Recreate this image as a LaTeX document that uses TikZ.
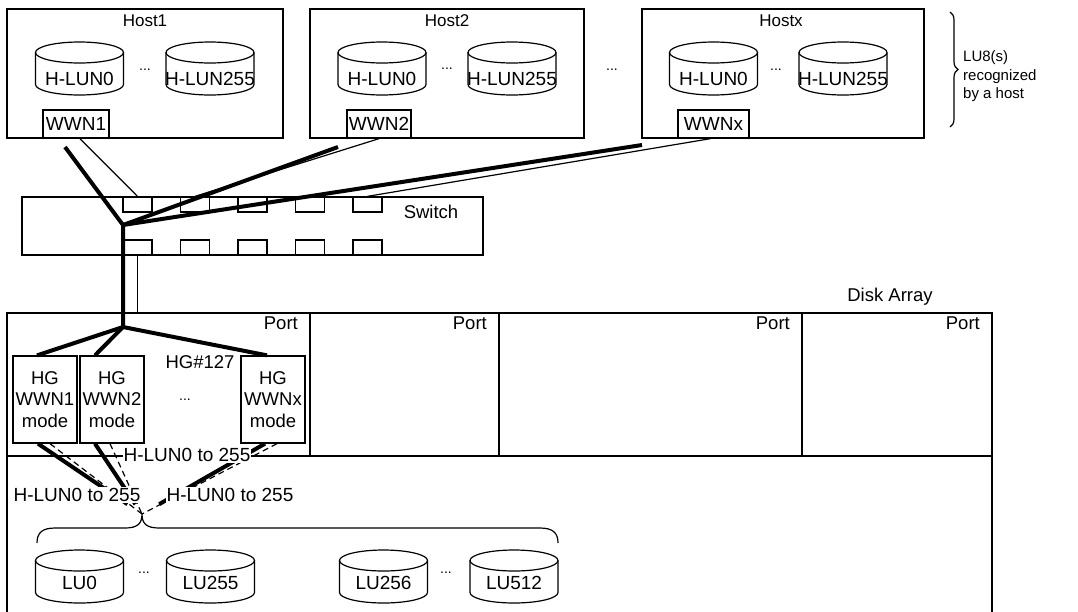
\documentclass[tikz,border=0pt]{standalone}
\usepackage{fontspec}
\setmainfont{Liberation Sans}
\usetikzlibrary{calc,decorations.pathreplacing}
\newcommand{\drawcyl}[5]{%
  \draw[cylline] ({#2-44},{#3+10.5}) -- ({#2-44},{#3+42.5}) arc[start angle=180,end angle=360,x radius=44pt,y radius=10.5pt] -- ({#2+44},{#3+10.5});
  \draw[cylline] (#2,{#3+10.5}) ellipse[x radius=44pt,y radius=10.5pt];
  \node[cyltext] (#1) at (#2,#5) {#4};
}
\begin{document}
\begin{tikzpicture}[x=1pt,y=-1pt,
  bx/.style={draw,line width=1.3pt,inner sep=0pt},
  hosttitle/.style={inner sep=0pt,font=\fontsize{17}{20}\selectfont},
  cyltext/.style={inner sep=0pt,font=\fontsize{19}{22}\selectfont},
  cylline/.style={line width=1.2pt},
  wwnbox/.style={bx,font=\fontsize{19}{22}\selectfont},
  swport/.style={bx,minimum width=29pt,minimum height=15pt},
  txt/.style={inner sep=0pt,font=\fontsize{18.5}{22}\selectfont},
  hgbox/.style={bx,minimum width=64pt,minimum height=87pt,align=center,font=\fontsize{18.5}{21.5}\selectfont},
  lunlabel/.style={fill=white,inner sep=1pt,font=\fontsize{19}{22}\selectfont},
  dotnode/.style={inner sep=0pt,font=\fontsize{14}{16}\selectfont},
  thickline/.style={line width=4pt},
  thinline/.style={line width=1.2pt},
  dashline/.style={line width=1.2pt,dash pattern=on 6pt off 4pt},
  sidelabel/.style={inner sep=0pt,align=left,font=\fontsize{15}{18.5}\selectfont},
  bracket/.style={line width=1.2pt}]
\useasboundingbox (0,0) rectangle (1078,611);

% Hosts
\node[bx,minimum width=276pt,minimum height=129pt] (host1) at (145,73.5) {};
\node[bx,minimum width=274pt,minimum height=129pt] (host2) at (447,73.5) {};
\node[bx,minimum width=282pt,minimum height=129pt] (hostx) at (783,73.5) {};
\node[hosttitle] (t1) at (145,21) {Host1};
\node[hosttitle] (t2) at (447,21) {Host2};
\node[hosttitle] (tx) at (781,21) {Hostx};

\drawcyl{h1a}{79.5}{42}{H-LUN0}{79}
\drawcyl{h1b}{210}{42}{H-LUN255}{79}
\drawcyl{h2a}{382}{42}{H-LUN0}{79}
\drawcyl{h2b}{512}{42}{H-LUN255}{79}
\drawcyl{hxa}{713.5}{42}{H-LUN0}{79}
\drawcyl{hxb}{843}{42}{H-LUN255}{79}
\node[dotnode] (d1) at (145,70) {...};
\node[dotnode] (d2) at (447,69) {...};
\node[dotnode] (d3) at (612,70) {...};
\node[dotnode] (d4) at (776,70) {...};

\node[wwnbox,minimum width=66pt,minimum height=28pt] (wwn1) at (76,124) {WWN1};
\node[wwnbox,minimum width=64pt,minimum height=28pt] (wwn2) at (379,124) {WWN2};
\node[wwnbox,minimum width=71pt,minimum height=28pt] (wwnx) at (713.5,124) {WWNx};

% brace right
\draw[bracket,decorate,decoration={brace,amplitude=8pt}] (950,12) -- (950,127);
\node[sidelabel,anchor=west] (lu8) at (963,76.5) {LU8(s)\\recognized\\by a host};

% Switch
\node[bx,minimum width=461pt,minimum height=58pt] (switch) at (252.5,226) {};
\node[txt] (swlabel) at (431,212) {Switch};
\foreach \i/\x in {1/137.5,2/195,3/252.5,4/310,5/367.5}{
  \node[swport] (sp\i) at (\x,204.5) {};
  \node[swport] (sb\i) at (\x,247.5) {};
}

% Disk array
\node[txt] (disklabel) at (890,297) {Disk Array};
\node[bx,minimum width=303pt,minimum height=143pt] (port1) at (158.5,384.5) {};
\node[bx,minimum width=189pt,minimum height=143pt] (port2) at (404.5,384.5) {};
\node[bx,minimum width=303pt,minimum height=143pt] (port3) at (650.5,384.5) {};
\node[bx,minimum width=190pt,minimum height=143pt] (port4) at (897,384.5) {};
\node[bx,minimum width=985pt,minimum height=170pt] (lower) at (499.5,541) {};
\foreach \p/\x in {1/298,2/487,3/790,4/980}{
  \node[txt,anchor=east] (pl\p) at (\x,323) {Port};
}

% HG boxes
\node[hgbox] (hg1) at (45,399.5) {HG\\WWN1\\mode};
\node[hgbox] (hg2) at (112,399.5) {HG\\WWN2\\mode};
\node[hgbox] (hgx) at (273,399.5) {HG\\WWNx\\mode};
\node[txt] (hg127) at (200,362) {HG\#127};
\node[dotnode] (d5) at (185,400) {...};

% LU cylinders
\drawcyl{lu0}{79.5}{550}{LU0}{583}
\drawcyl{lu255}{210.5}{550}{LU255}{583}
\drawcyl{lu256}{383.5}{550}{LU256}{583}
\drawcyl{lu512}{514}{550}{LU512}{583}
\node[dotnode] (d6) at (144,573) {...};
\node[dotnode] (d7) at (446,573) {...};

% bottom brace
\coordinate (tip) at (142,514);
\draw[bracket] (37,543) .. controls (37,533) and (42,528) .. (55,528) -- (125,528)
  .. controls (137,528) and (142,524) .. (tip)
  .. controls (142,524) and (147,528) .. (159,528) -- (540,528)
  .. controls (553,528) and (558,533) .. (558,543);

% connections
\coordinate (hub) at (123,225);
\coordinate (branch) at (123,327);
\coordinate (c1) at (65,147);
\coordinate (c2) at (338,147);
\coordinate (cx) at (642,145);
\draw[thinline] ($(wwn1.south)+(4,0)$) -- (sp1.north);
\draw[thinline] (wwn2.south) -- (sp2.north);
\draw[thinline] ($(wwnx.south)+(-3,0)$) -- (sp5.north);
\draw[thinline] (sb1.south) -- (sb1.south |- port1.north);
\draw[thickline] (c1) -- (hub) -- (branch);
\draw[thickline] (c2) -- (hub);
\draw[thickline] (cx) -- (hub);
\draw[thickline] (branch) -- ($(hg1.north)+(-8,0)$);
\draw[thickline] (branch) -- ($(hg2.north)+(-17,0)$);
\draw[thickline] (branch) -- ($(hgx.north)+(-6,0)$);

\coordinate (s1) at ($(hg1.south)+(-7,0)$);
\coordinate (s2) at ($(hg2.south)+(-17,0)$);
\coordinate (s3) at ($(hgx.south)+(-8,0)$);
\draw[thickline] (s1) -- ($(s1)!0.86!(tip)$);
\draw[thickline] (s2) -- ($(s2)!0.86!(tip)$);
\draw[thickline] (s3) -- ($(s3)!0.86!(tip)$);
\draw[dashline] ($(hg1.south)+(5,0)$) -- (tip);
\draw[dashline] ($(hg2.south)+(-2,0)$) -- (tip);
\draw[dashline] ($(hgx.south)+(4,0)$) -- (tip);

\node[lunlabel] (lab1) at (187,455) {H-LUN0 to 255};
\node[lunlabel] (lab2) at (77,495) {H-LUN0 to 255};
\node[lunlabel] (lab3) at (230,495) {H-LUN0 to 255};
\end{tikzpicture}
\end{document}
